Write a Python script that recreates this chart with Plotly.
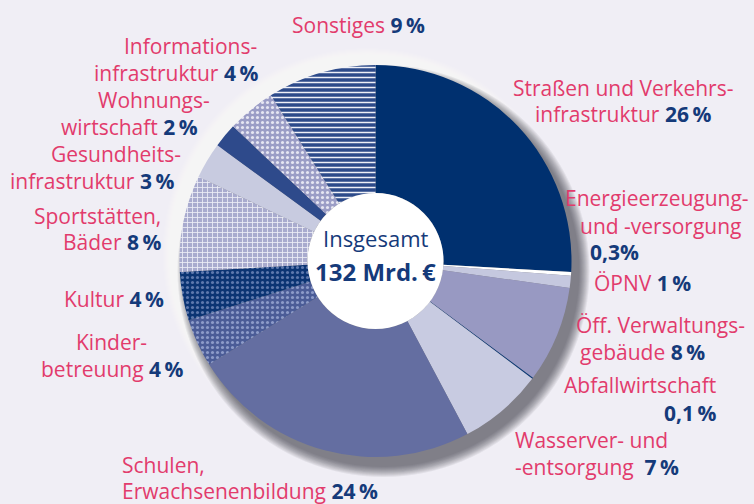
import plotly.graph_objects as go

# ---------------- data ----------------
categories = ["Straßen und Verkehrsinfrastruktur", "Energieerzeugung und -versorgung", "ÖPNV",
              "Öff. Verwaltungsgebäude", "Abfallwirtschaft", "Wasserver- und -entsorgung",
              "Schulen, Erwachsenenbildung", "Kinderbetreuung", "Kultur", "Sportstätten, Bäder",
              "Gesundheitsinfrastruktur", "Wohnungswirtschaft", "Informationsinfrastruktur", "Sonstiges"]
values = [26, 0.3, 1, 8, 0.1, 7, 24, 4, 4, 8, 3, 2, 4, 9]
pct_labels = ["26\u2009%", "0,3%", "1\u2009%", "8\u2009%", "0,1\u2009%", "7\u2009%", "24\u2009%",
              "4\u2009%", "4\u2009%", "8\u2009%", "3\u2009%", "2\u2009%", "4\u2009%", "9\u2009%"]
total_label = "132 Mrd.\u2009€"
slice_colors = ["#00306f", "#ffffff", "#c5c8df", "#9899c2", "#0a3a7a", "#c8cbe1", "#646ea1",
                "#4b5c97", "#0b3473", "#a9abce", "#c8cbe0", "#2e4a8b", "#9b9dc6", "#2c4a8a"]
pattern_shapes = ["", "", "", "", "", "", "", ".", ".", "+", "", "", ".", "-"]
pattern_fg = ["#000000", "#000000", "#000000", "#000000", "#000000", "#000000", "#000000",
              "#8d9bc9", "#5d78ad", "#eeeef6", "#000000", "#000000", "#e6e6f2", "#eef0f8"]

# label lines: (text, pct index or None, x px, y px, anchor)
label_lines = [
    ("Sonstiges ", 13, 290, 25, "left"),
    ("Informations-", None, 259, 46, "right"),
    ("infrastruktur ", 12, 260, 73, "right"),
    ("Wohnungs-", None, 212, 100, "right"),
    ("wirtschaft ", 11, 200, 127, "right"),
    ("Gesundheits-", None, 183, 154, "right"),
    ("infrastruktur ", 10, 176, 181, "right"),
    ("Sportstätten,", None, 163, 216, "right"),
    ("Bäder ", 9, 163, 242, "right"),
    ("Kultur ", 8, 166, 299, "right"),
    ("Kinder-", None, 74, 342, "left"),
    ("betreuung ", 7, 185, 369, "right"),
    ("Schulen,", None, 120, 465, "left"),
    ("Erwachsenenbildung ", 6, 120, 491, "left"),
    ("Straßen und Verkehrs-", None, 511, 88, "left"),
    ("infrastruktur ", 0, 533, 114, "left"),
    ("Energieerzeugung-", None, 751, 198, "right"),
    ("und -versorgung", None, 743, 226, "right"),
    ("", 1, 588, 252, "left"),
    ("ÖPNV ", 2, 592, 283, "left"),
    ("Öff. Verwaltungs-", None, 747, 325, "right"),
    ("gebäude ", 3, 578, 352, "left"),
    ("Abfallwirtschaft", None, 562, 385, "left"),
    ("", 4, 718, 413, "right"),
    ("Wasserver- und", None, 513, 440, "left"),
    ("-entsorgung  ", 5, 513, 467, "left"),
]

W, H = 754, 504
PINK = "#e23b6c"
NAVY = "#153a7a"
FONT = "Open Sans, Noto Sans, sans-serif"
FS = 21
CX, CY, R = 375.5, 261, 196
HOLE_R = 68


def px(x):
    return x / W


def py(y):
    return 1 - y / H


fig = go.Figure()
fig.add_trace(go.Pie(
    labels=categories,
    values=values,
    sort=False,
    direction="clockwise",
    rotation=0,
    hole=HOLE_R / R,
    textinfo="none",
    hoverinfo="label+percent",
    showlegend=False,
    marker=dict(
        colors=slice_colors,
        line=dict(width=0),
        pattern=dict(shape=pattern_shapes, fgcolor=pattern_fg, bgcolor=slice_colors,
                     size=5, solidity=0.3, fgopacity=1),
    ),
    domain=dict(x=[px(CX - R), px(CX + R)], y=[py(CY + R), py(CY - R)]),
))

shapes = []
# soft white glow (top-left)
for k in range(9, 0, -1):
    shapes.append(dict(type="circle", xref="paper", yref="paper", layer="below",
                       x0=px(CX - 8 - R - k), x1=px(CX - 8 + R + k),
                       y0=py(CY - 8 + R + k), y1=py(CY - 8 - R - k),
                       fillcolor="rgba(255,255,255,0.09)", line=dict(width=0)))
# shadow (bottom-right)
for k in range(10, -1, -1):
    shapes.append(dict(type="circle", xref="paper", yref="paper", layer="below",
                       x0=px(CX + 8 - R - k), x1=px(CX + 8 + R + k),
                       y0=py(CY + 10 + R + k), y1=py(CY + 10 - R - k),
                       fillcolor="rgba(40,40,60,0.07)", line=dict(width=0)))
# white centre
shapes.append(dict(type="circle", xref="paper", yref="paper", layer="above",
                   x0=px(CX - HOLE_R), x1=px(CX + HOLE_R),
                   y0=py(CY + HOLE_R), y1=py(CY - HOLE_R),
                   fillcolor="#ffffff", line=dict(width=0)))

annotations = []
for text, idx, x, y, anchor in label_lines:
    t = text
    if idx is not None:
        t += f"<span style='color:{NAVY}'><b>{pct_labels[idx]}</b></span>"
    annotations.append(dict(text=t, x=px(x), y=py(y), xref="paper", yref="paper",
                            xanchor=anchor, yanchor="middle", showarrow=False,
                            font=dict(family=FONT, size=FS, color=PINK)))
annotations.append(dict(text="Insgesamt", x=px(CX), y=py(238), xref="paper", yref="paper",
                        xanchor="center", yanchor="middle", showarrow=False,
                        font=dict(family=FONT, size=22, color=NAVY)))
annotations.append(dict(text=f"<b>{total_label}</b>", x=px(CX), y=py(271), xref="paper",
                        yref="paper", xanchor="center", yanchor="middle", showarrow=False,
                        font=dict(family=FONT, size=24, color=NAVY)))

fig.update_layout(
    width=W, height=H,
    margin=dict(l=0, r=0, t=0, b=0),
    paper_bgcolor="#f0eef5",
    plot_bgcolor="#f0eef5",
    shapes=shapes,
    annotations=annotations,
)

fig.write_html("out.html", config={"displayModeBar": False},
               post_script="document.body.style.margin='0';document.body.style.overflow='hidden';")
